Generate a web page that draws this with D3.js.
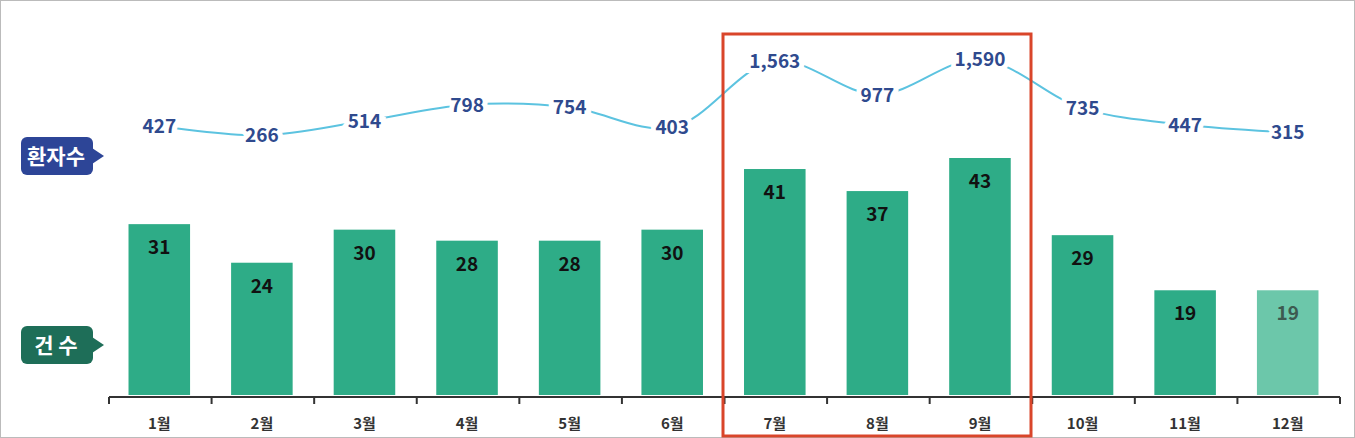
<!DOCTYPE html><html><head><meta charset="utf-8">
<script src="https://cdn.jsdelivr.net/npm/d3@7"></script>
<style>body{margin:0;background:#fff}svg{display:block}</style></head><body>
<svg id="c" width="1355" height="438"></svg>
<script>
const months=["1월","2월","3월","4월","5월","6월","7월","8월","9월","10월","11월","12월"];
const cases=[31,24,30,28,28,30,41,37,43,29,19,19];
const patients=[427,266,514,798,754,403,1563,977,1590,735,447,315];
const svg=d3.select("#c");
const F="'Noto Sans CJK KR','Noto Sans',sans-serif";
svg.append("rect").attr("x",0.5).attr("y",0.5).attr("width",1354).attr("height",437).attr("fill","none").attr("stroke","#bbb");
const x=d3.scaleBand().domain(months).range([109,1340]).paddingInner(0.4).paddingOuter(0.2);
const y=d3.scaleLinear().domain([0,43]).range([395,158]);
const yl=d3.scaleLinear().domain([427,1563]).range([126,61]);
svg.selectAll(".bar").data(cases).join("rect")
 .attr("x",(d,i)=>x(months[i])-1).attr("width",x.bandwidth())
 .attr("y",d=>y(d)).attr("height",d=>395-y(d))
 .attr("fill",(d,i)=>i==11?"#6cc7aa":"#2eac87");
svg.selectAll(".bl").data(cases).join("text")
 .attr("x",(d,i)=>x(months[i])-1+x.bandwidth()/2).attr("y",d=>y(d)+30)
 .attr("text-anchor","middle").attr("font-family",F).attr("font-weight","bold").attr("font-size",19)
 .attr("fill",(d,i)=>i==11?"#3d5a50":"#111").text(d=>d);
const step=x.step();
const ax=svg.append("g").attr("transform","translate(0,397)");
ax.append("line").attr("x1",109).attr("x2",1340).attr("stroke","#333").attr("stroke-width",2);
d3.range(13).forEach(i=>ax.append("line").attr("x1",109+i*step).attr("x2",109+i*step).attr("y1",0).attr("y2",7).attr("stroke","#333").attr("stroke-width",2));
svg.selectAll(".ml").data(months).join("text")
 .attr("x",d=>x(d)-1+x.bandwidth()/2).attr("y",429).attr("text-anchor","middle")
 .attr("font-family",F).attr("font-weight","bold").attr("font-size",15).attr("fill","#333").text(d=>d);
const pts=patients.map((v,i)=>[x(months[i])-1+x.bandwidth()/2,yl(v)]);
svg.append("path").attr("d",d3.line().curve(d3.curveCatmullRom)(pts)).attr("fill","none").attr("stroke","#5cc3e0").attr("stroke-width",2);
svg.selectAll(".pl").data(patients).join("text")
 .attr("x",(d,i)=>pts[i][0]).attr("y",(d,i)=>pts[i][1]+7)
 .attr("text-anchor","middle").attr("font-family",F).attr("font-weight","bold").attr("font-size",19)
 .attr("fill","#2f4a8e").attr("stroke","#fff").attr("stroke-width",10).attr("paint-order","stroke")
 .text(d=>d3.format(",")(d));
function tag(yc,txt,col){
 const g=svg.append("g");
 g.append("rect").attr("x",21).attr("y",yc-19).attr("width",72).attr("height",38).attr("rx",6).attr("fill",col);
 g.append("path").attr("d",`M92,${yc-8}L104,${yc}L92,${yc+8}Z`).attr("fill",col);
 g.append("text").attr("x",56).attr("y",yc+8).attr("text-anchor","middle").attr("font-family",F).attr("font-weight","bold").attr("font-size",21).attr("fill","#fff").text(txt);
}
tag(156,"환자수","#2d4597");
tag(345,"건 수","#1e6e58");
svg.append("rect").attr("x",723).attr("y",34).attr("width",308).attr("height",402).attr("fill","none").attr("stroke","#d9452a").attr("stroke-width",3);
</script></body></html>
